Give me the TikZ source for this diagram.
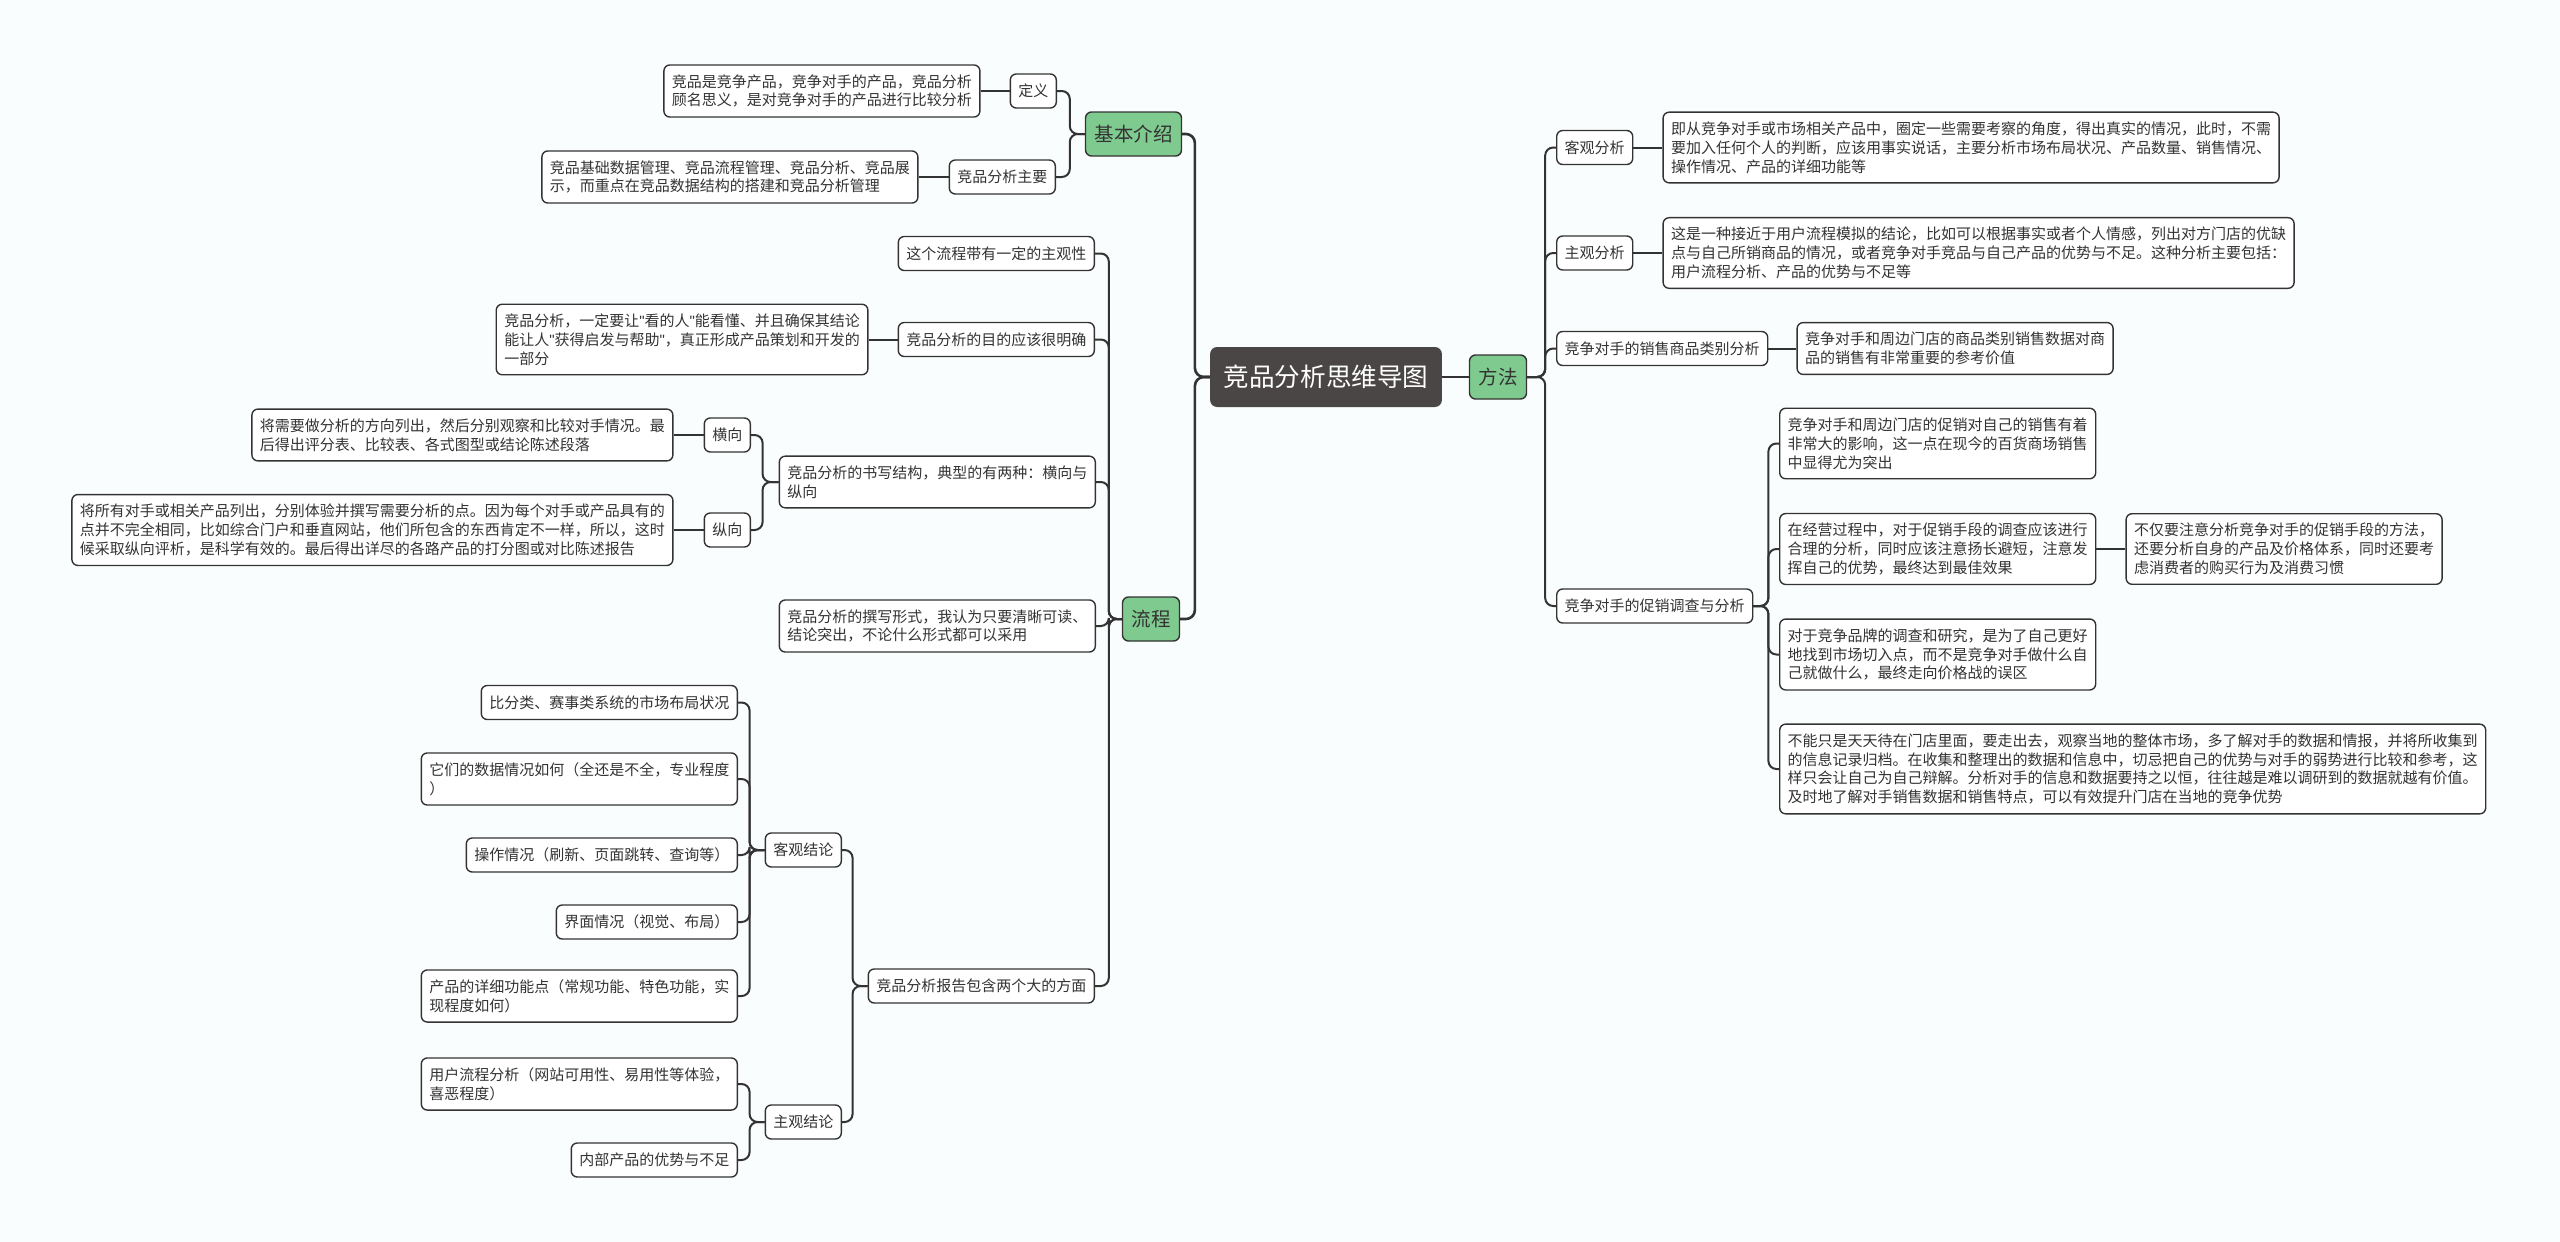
\documentclass[tikz,border=0pt]{standalone}
\usepackage{fontspec}
\setmainfont{Noto Sans CJK SC}
\newfontfamily\quotefont{Liberation Sans}
\newcommand{\qmark}{{\quotefont"}}
\usetikzlibrary{positioning}
\definecolor{ink}{HTML}{333333}
\definecolor{paper}{HTML}{FAFDFE}
\definecolor{rootfill}{HTML}{4B4646}
\definecolor{branchfill}{HTML}{7FCA8F}
\tikzset{
  every node/.style={font=\fontsize{15}{18.8}\selectfont, text=ink},
  topic/.style={draw=ink, rounded corners=6pt, line width=1.4pt, fill=white, align=left, inner xsep=8pt, inner ysep=9.5pt, minimum height=34pt},
  rootbox/.style={fill=rootfill, rounded corners=7pt, text=white, inner xsep=13.5pt, minimum height=60pt, font=\fontsize{25.6}{30}\selectfont},
  branchbox/.style={draw=ink, fill=branchfill, rounded corners=6pt, line width=1.4pt, inner xsep=9pt, minimum height=44pt, font=\fontsize{19.5}{24}\selectfont},
  mainlink/.style={draw=ink, line width=2.6pt, rounded corners=9pt},
  link/.style={draw=ink, line width=2pt, rounded corners=8pt},
}
\begin{document}
\begin{tikzpicture}[x=1pt,y=-1pt]
\fill[paper] (0,0) rectangle (2560,1242);
\useasboundingbox (0,0) rectangle (2560,1242);
\node[rootbox] (root) at (1326,377) {竞品分析思维导图};
\node[branchbox] (method) at (1498,377) {方法};
\node[branchbox] (intro) at (1133.5,134) {基本介绍};
\node[branchbox] (flow) at (1151,619) {流程};
% right side
\node[topic, anchor=west] (objana) at (1556,147.5) {客观分析};
\node[topic, right=29pt of objana] (objananote) {即从竞争对手或市场相关产品中，圈定一些需要考察的角度，得出真实的情况，此时，不需\\要加入任何个人的判断，应该用事实说话，主要分析市场布局状况、产品数量、销售情况、\\操作情况、产品的详细功能等};
\node[topic, anchor=west] (subana) at (1556,253) {主观分析};
\node[topic, right=29pt of subana] (subananote) {这是一种接近于用户流程模拟的结论，比如可以根据事实或者个人情感，列出对方门店的优缺\\点与自己所销商品的情况，或者竞争对手竞品与自己产品的优势与不足。这种分析主要包括：\\用户流程分析、产品的优势与不足等};
\node[topic, anchor=west] (catana) at (1556,348.5) {竞争对手的销售商品类别分析};
\node[topic, right=28pt of catana] (catananote) {竞争对手和周边门店的商品类别销售数据对商\\品的销售有非常重要的参考价值};
\node[topic, anchor=west] (promo) at (1556,606) {竞争对手的促销调查与分析};
\node[topic, anchor=west] (promoa) at (1779,443.5) {竞争对手和周边门店的促销对自己的销售有着\\非常大的影响，这一点在现今的百货商场销售\\中显得尤为突出};
\node[topic, anchor=west] (promob) at (1779,549) {在经营过程中，对于促销手段的调查应该进行\\合理的分析，同时应该注意扬长避短，注意发\\挥自己的优势，最终达到最佳效果};
\node[topic, right=29pt of promob] (promobnote) {不仅要注意分析竞争对手的促销手段的方法，\\还要分析自身的产品及价格体系，同时还要考\\虑消费者的购买行为及消费习惯};
\node[topic, anchor=west] (promoc) at (1779,654.5) {对于竞争品牌的调查和研究，是为了自己更好\\地找到市场切入点，而不是竞争对手做什么自\\己就做什么，最终走向价格战的误区};
\node[topic, anchor=west] (promod) at (1779,769) {不能只是天天待在门店里面，要走出去，观察当地的整体市场，多了解对手的数据和情报，并将所收集到\\的信息记录归档。在收集和整理出的数据和信息中，切忌把自己的优势与对手的弱势进行比较和参考，这\\样只会让自己为自己辩解。分析对手的信息和数据要持之以恒，往往越是难以调研到的数据就越有价值。\\及时地了解对手销售数据和销售特点，可以有效提升门店在当地的竞争优势};
% left side
\node[topic, anchor=east] (def) at (1057,91) {定义};
\node[topic, left=29pt of def] (defnote) {竞品是竞争产品，竞争对手的产品，竞品分析\\顾名思义，是对竞争对手的产品进行比较分析};
\node[topic, anchor=east] (core) at (1056,177) {竞品分析主要};
\node[topic, left=30pt of core] (corenote) {竞品基础数据管理、竞品流程管理、竞品分析、竞品展\\示，而重点在竞品数据结构的搭建和竞品分析管理};
\node[topic, anchor=east] (subj) at (1095,253.5) {这个流程带有一定的主观性};
\node[topic, anchor=east] (goal) at (1095,339.5) {竞品分析的目的应该很明确};
\node[topic, left=29pt of goal] (goalnote) {竞品分析，一定要让\qmark 看的人\qmark 能看懂、并且确保其结论\\能让人\qmark 获得启发与帮助\qmark ，真正形成产品策划和开发的\\一部分};
\node[topic, anchor=east] (struct) at (1096,482) {竞品分析的书写结构，典型的有两种：横向与\\纵向};
\node[topic, anchor=east] (horiz) at (751,435) {横向};
\node[topic, left=30pt of horiz] (horiznote) {将需要做分析的方向列出，然后分别观察和比较对手情况。最\\后得出评分表、比较表、各式图型或结论陈述段落};
\node[topic, anchor=east] (vert) at (751,530) {纵向};
\node[topic, left=30pt of vert] (vertnote) {将所有对手或相关产品列出，分别体验并撰写需要分析的点。因为每个对手或产品具有的\\点并不完全相同，比如综合门户和垂直网站，他们所包含的东西肯定不一样，所以，这时\\候采取纵向评析，是科学有效的。最后得出详尽的各路产品的打分图或对比陈述报告};
\node[topic, anchor=east] (form) at (1096,626) {竞品分析的撰写形式，我认为只要清晰可读、\\结论突出，不论什么形式都可以采用};
\node[topic, anchor=east] (report) at (1095,986) {竞品分析报告包含两个大的方面};
\node[topic, anchor=east] (objcon) at (842,850) {客观结论};
\node[topic, anchor=east] (objcona) at (738,702.5) {比分类、赛事类系统的市场布局状况};
\node[topic, anchor=east] (objconb) at (738,779) {它们的数据情况如何（全还是不全，专业程度\\）};
\node[topic, anchor=east] (objconc) at (738,855) {操作情况（刷新、页面跳转、查询等）};
\node[topic, anchor=east] (objcond) at (738,922) {界面情况（视觉、布局）};
\node[topic, anchor=east] (objcone) at (738,996) {产品的详细功能点（常规功能、特色功能，实\\现程度如何）};
\node[topic, anchor=east] (subcon) at (842,1122) {主观结论};
\node[topic, anchor=east] (subcona) at (738,1084) {用户流程分析（网站可用性、易用性等体验，\\喜恶程度）};
\node[topic, anchor=east] (subconb) at (738,1160) {内部产品的优势与不足};
% connectors
\draw[mainlink] (root) -- (method);
\draw[mainlink] (root.west) -- ++(-15,0) |- (intro.east); \draw[mainlink] (root.west) -- ++(-15,0) |- (flow.east);
\foreach \c in {objana,subana,catana,promo} \draw[link] (method.east) -- ++(18,0) |- (\c.west);
\draw[link] (objana) -- (objananote); \draw[link] (subana) -- (subananote); \draw[link] (catana) -- (catananote);
\foreach \c in {promoa,promob,promoc,promod} \draw[link] (promo.east) -- ++(15,0) |- (\c.west);
\draw[link] (promob) -- (promobnote);
\foreach \c in {def,core} \draw[link] (intro.west) -- ++(-15,0) |- (\c.east);
\draw[link] (def) -- (defnote); \draw[link] (core) -- (corenote);
\foreach \c in {subj,goal,struct,form,report} \draw[link] (flow.west) -- ++(-13,0) |- (\c.east);
\draw[link] (goal) -- (goalnote);
\foreach \c in {horiz,vert} \draw[link] (struct.west) -- ++(-16,0) |- (\c.east);
\draw[link] (horiz) -- (horiznote); \draw[link] (vert) -- (vertnote);
\foreach \c in {objcon,subcon} \draw[link] (report.west) -- ++(-15,0) |- (\c.east);
\foreach \c in {objcona,objconb,objconc,objcond,objcone} \draw[link] (objcon.west) -- ++(-15,0) |- (\c.east);
\foreach \c in {subcona,subconb} \draw[link] (subcon.west) -- ++(-15,0) |- (\c.east);
\end{tikzpicture}
\end{document}
